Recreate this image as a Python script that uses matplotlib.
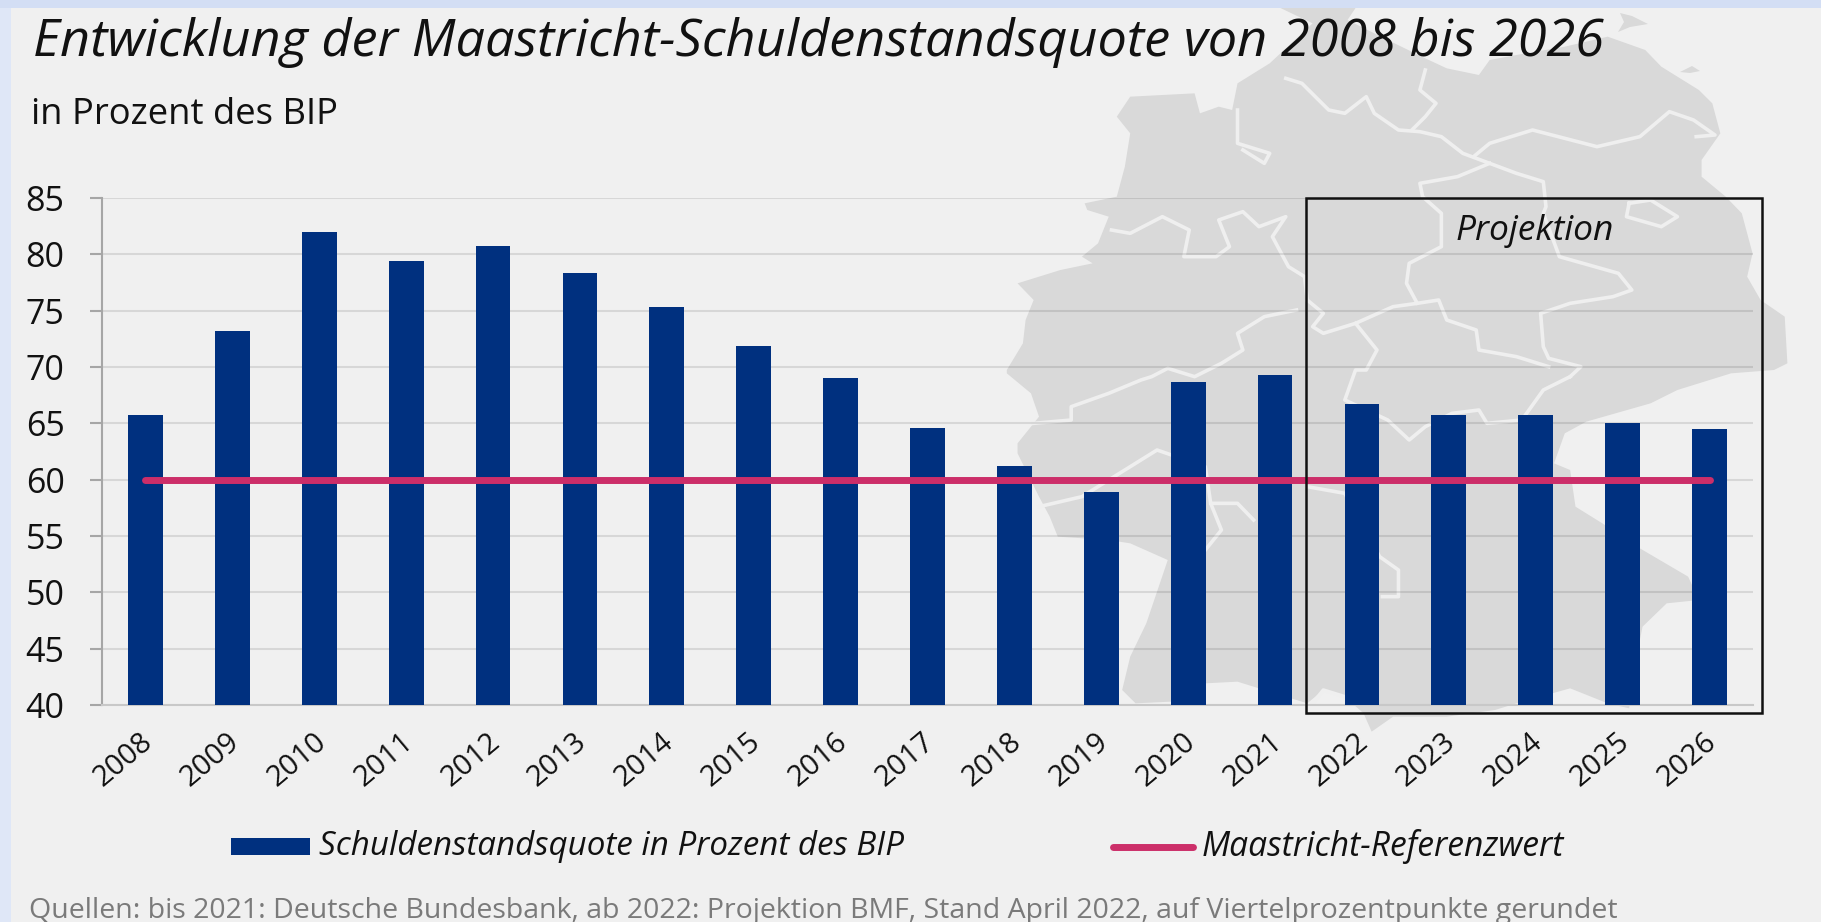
import matplotlib
matplotlib.use("Agg")
import matplotlib.pyplot as plt
from matplotlib.patches import Polygon, Rectangle

W, H = 1821, 922

years = [str(y) for y in range(2008, 2027)]
debt_ratio = [65.7, 73.2, 82.0, 79.4, 80.7, 78.3, 75.3, 71.9, 69.0, 64.6,
              61.2, 58.9, 68.7, 69.3, 66.75, 65.75, 65.75, 65.0, 64.5]
reference = [60] * len(years)
y_ticks = [40, 45, 50, 55, 60, 65, 70, 75, 80, 85]

title = "Entwicklung der Maastricht-Schuldenstandsquote von 2008 bis 2026"
subtitle = "in Prozent des BIP"
projection_label = "Projektion"
legend_bar = "Schuldenstandsquote in Prozent des BIP"
legend_line = "Maastricht-Referenzwert"
source = "Quellen: bis 2021: Deutsche Bundesbank, ab 2022: Projektion BMF, Stand April 2022, auf Viertelprozentpunkte gerundet"

BLUE = "#00307F"
PINK = "#CC2E69"
PANEL = "#F0F0F0"
MAP = "#D9D9D9"


def up(pts):
    return [(980 + x / 1.864, y / 3) for x, y in pts]


def low(pts):
    return [(980 + x / 1.864, 370 + y / 3) for x, y in pts]


map_outline = (
    up([(560, 24), (700, 24), (685, 60), (760, 120), (830, 175), (870, 205), (930, 225),
        (950, 180), (1000, 165), (1090, 140), (1170, 110), (1240, 150), (1270, 200),
        (1300, 230), (1340, 270), (1365, 310), (1380, 400), (1345, 480), (1345, 530),
        (1390, 590), (1420, 640), (1440, 760), (1430, 830), (1455, 900), (1500, 950),
        (1505, 1090)])
    + low([(1480, 0), (1400, 10), (1300, 60), (1250, 100), (1130, 155), (1090, 190),
           (1070, 280), (1100, 300), (1110, 410), (1160, 460), (1230, 535), (1320, 620),
           (1340, 690), (1280, 700), (1235, 770), (1225, 850), (1215, 960), (1210, 1015),
           (1170, 1000), (1100, 955), (1000, 1000), (960, 1020), (870, 1040), (770, 1040),
           (730, 1085), (715, 1030), (680, 980), (640, 960), (610, 1000), (560, 975),
           (480, 935), (420, 940), (420, 990), (290, 1000), (265, 960), (280, 860),
           (310, 760), (350, 570), (280, 520), (240, 510), (145, 500), (130, 440),
           (110, 380), (70, 250), (70, 220), (110, 140), (95, 70), (50, 10)])
    + up([(50, 1110), (80, 1030), (85, 960), (100, 900), (70, 850), (150, 810), (210, 790),
          (190, 770), (220, 730), (240, 650), (200, 630), (195, 610), (255, 590), (270, 500),
          (280, 400), (255, 350), (280, 290), (400, 280), (410, 340), (445, 320), (470, 330),
          (480, 250), (540, 190), (620, 70)])
)

map_islands = [
    [(1620, 13), (1632, 16), (1648, 24), (1630, 27), (1618, 32), (1624, 22)],
    [(1680, 72), (1692, 66), (1700, 71), (1690, 73)],
]

state_borders = [
    up([(570, 235), (600, 250), (650, 330), (680, 340), (720, 290), (735, 340), (780, 390),
        (820, 395), (860, 410), (900, 460), (950, 490), (1000, 520), (1050, 545), (1055, 620),
        (1050, 640), (1080, 770), (1190, 820), (1215, 870), (1180, 890), (1100, 910),
        (1045, 940), (1050, 1040), (1060, 1075), (1120, 1100), (1100, 1130)]),
    up([(830, 210), (820, 270), (850, 310), (830, 350), (805, 390)]),
    up([(920, 470), (950, 430), (1030, 390), (1150, 440), (1230, 410), (1285, 335),
        (1330, 360), (1370, 405), (1335, 410)]),
    up([(950, 490), (890, 530), (820, 550), (825, 590), (860, 640), (860, 740), (800, 790),
        (795, 850), (815, 910), (770, 920), (700, 970), (640, 1000), (620, 980), (640, 940),
        (610, 900)]),
    up([(815, 910), (855, 900), (870, 960), (925, 990), (930, 1050), (1000, 1070), (1060, 1100)]),
    up([(245, 690), (280, 700), (340, 650), (390, 690), (380, 770), (440, 770), (465, 740),
        (445, 660), (490, 635), (520, 680), (570, 650), (545, 710), (575, 800), (605, 830),
        (610, 900)]),
    up([(480, 330), (480, 430), (540, 460), (530, 490), (490, 450)]),
    up([(1210, 610), (1250, 600), (1300, 650), (1270, 680), (1205, 650), (1210, 610)]),
    up([(700, 970), (740, 1050), (720, 1110)]) + low([(700, 0), (680, 90), (760, 150), (800, 210),
        (830, 170), (880, 130), (930, 120), (945, 160), (1010, 150), (1050, 60), (1100, 20)]),
    up([(590, 930), (530, 950), (480, 1000), (490, 1050), (450, 1090), (400, 1130), (350, 1105),
        (320, 1130)]) + low([(300, 30), (240, 70), (170, 110), (170, 150), (100, 160)]),
    low([(610, 350), (680, 370), (745, 560), (780, 600), (780, 680), (750, 680)]),
    low([(110, 410), (190, 380), (330, 240), (420, 290), (430, 400), (450, 480), (420, 540)]),
    low([(430, 400), (480, 400), (510, 450)]),
    low([(620, 1000), (640, 960), (680, 980)]),
]

plt.rcParams["font.family"] = ["Open Sans", "DejaVu Sans"]

fig = plt.figure(figsize=(W / 100, H / 100), dpi=100, facecolor="#D3DEF4")

# background layer in pixel coordinates
bg = fig.add_axes([0, 0, 1, 1], zorder=0)
bg.set_xlim(0, W)
bg.set_ylim(H, 0)
bg.axis("off")
bg.add_patch(Rectangle((0, 8), 11, H, color="#DFE7F7", lw=0))
bg.add_patch(Rectangle((11, 8), W, H, color=PANEL, lw=0))
bg.add_patch(Polygon(map_outline, closed=True, color=MAP, lw=0))
for island in map_islands:
    bg.add_patch(Polygon(island, closed=True, color=MAP, lw=0))
for border in state_borders:
    bg.plot(*zip(*border), color="#EFEFEF", lw=2.6, solid_joinstyle="round")

# chart
ax = fig.add_axes([102 / W, 1 - 705 / H, (1753 - 102) / W, (705 - 198) / H], zorder=1)
ax.patch.set_alpha(0)
x = list(range(len(years)))
ax.bar(x, [v - 40 for v in debt_ratio], bottom=40, width=0.40, color=BLUE, zorder=3)
ax.plot(x, reference, color=PINK, lw=5, solid_capstyle="round", zorder=4)
ax.set_xlim(-0.5, 18.5)
ax.set_ylim(40, 85)
ax.set_yticks(y_ticks)
ax.set_xticks(x)
ax.set_xticklabels([])
# year labels sit left of the tick, so they are placed by hand
for i, year in zip(x, years):
    ax.annotate(year, (i, 40), xytext=(-4.3, -16), textcoords="offset points", rotation=40,
                ha="right", va="top", rotation_mode="anchor", fontsize=21, color="#111111",
                annotation_clip=False)
ax.tick_params(axis="x", length=0)
ax.tick_params(axis="y", length=9, width=1.5, color="#A6A6A6", labelsize=24.5, pad=18, labelcolor="#111111")
ax.grid(axis="y", color="#000000", alpha=0.1, lw=1.5, zorder=1)
ax.set_axisbelow(True)
for side in ["top", "right"]:
    ax.spines[side].set_visible(False)
ax.spines["left"].set_color("#A6A6A6")
ax.spines["left"].set_linewidth(1.5)
ax.spines["bottom"].set_color("#C8C8C8")
ax.spines["bottom"].set_linewidth(1.5)

# projection frame
ax.add_patch(Rectangle((13.36, 39.32), 5.245, 45.68, fill=False, ec="#111111", lw=1.8,
                       clip_on=False, zorder=5))
ax.text(15.99, 82.1, projection_label, style="italic", fontsize=25.5, ha="center", va="center",
        color="#111111", zorder=6)

# text and legend in pixel coordinates
over = fig.add_axes([0, 0, 1, 1], zorder=2)
over.set_xlim(0, W)
over.set_ylim(H, 0)
over.axis("off")
over.text(33, 56, title, style="italic", fontsize=37.6, color="#111111", va="baseline")
over.text(31, 124, subtitle, fontsize=26.2, color="#111111", va="baseline")
over.add_patch(Rectangle((231, 838), 79, 17, color=BLUE, lw=0))
over.text(319, 855, legend_bar, style="italic", fontsize=23.9, color="#111111", va="baseline")
over.plot([1113, 1193], [847, 847], color=PINK, lw=5, solid_capstyle="round")
over.text(1202, 856, legend_line, style="italic", fontsize=24.2, color="#111111", va="baseline")
over.text(29, 918, source, fontsize=20.5, color="#7A7A7A", va="baseline")

fig.savefig("out.png", dpi=100, facecolor=fig.get_facecolor())
